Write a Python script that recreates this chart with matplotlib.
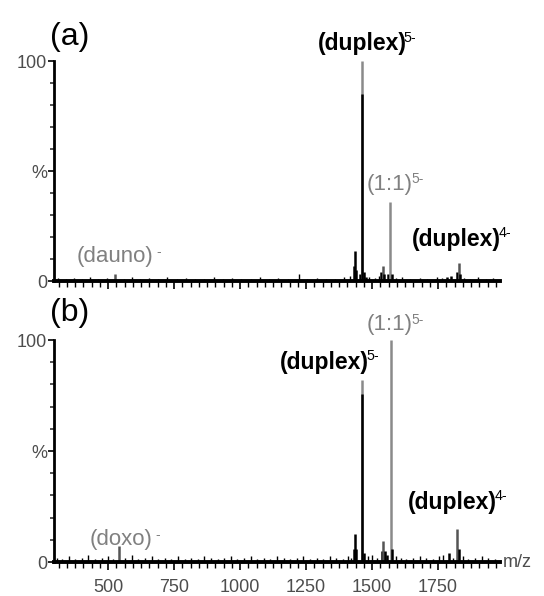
import matplotlib
matplotlib.use("Agg")
import matplotlib.pyplot as plt
from matplotlib.ticker import FixedLocator, MultipleLocator

plt.rcParams['font.family'] = ['Liberation Sans', 'DejaVu Sans']

# panel (a): daunorubicin, main peaks (m/z, %, colour)
peaks_a_mz = [526, 1430, 1436, 1441, 1455, 1462, 1463, 1470, 1476, 1535, 1540, 1546, 1562, 1568, 1575, 1785, 1800, 1822, 1828, 1835]
peaks_a_int = [3, 7, 13.5, 5, 3, 100, 85, 4, 2, 4, 7, 3, 3, 36, 3, 2, 2.5, 4, 8, 3]
peaks_a_col = ['#555555', 'k', 'k', 'k', 'k', '#8a8a8a', 'k', 'k', 'k', 'k', '#555555', 'k', 'k', '#8a8a8a', 'k', 'k', 'k', 'k', '#555555', 'k']

# panel (b): doxorubicin
peaks_b_mz = [542, 1430, 1436, 1441, 1462, 1463, 1470, 1536, 1542, 1548, 1555, 1571, 1576, 1790, 1823, 1828]
peaks_b_int = [7, 6, 12.5, 6, 82, 75.5, 4, 5, 9.5, 5, 3, 100, 6, 4, 15, 6]
peaks_b_col = ['#555555', 'k', 'k', 'k', '#8a8a8a', 'k', 'k', 'k', '#555555', 'k', 'k', '#8a8a8a', 'k', 'k', '#555555', 'k']

# baseline noise
noise_a_mz = [310, 340, 372, 400, 430, 460, 495, 560, 590, 622, 655, 690, 722, 760, 795, 830, 865, 900, 935,
              970, 1005, 1040, 1075, 1110, 1145, 1180, 1222, 1255, 1290, 1325, 1360, 1395, 1415, 1490, 1510,
              1525, 1590, 1615, 1645, 1680, 1710, 1745, 1765, 1850, 1870, 1900, 1930, 1960]
noise_a_int = [1.5, 1, 1.5, 1, 2, 1, 1.5, 1, 2, 1, 1.5, 1, 2, 1, 1.5, 1, 1, 2, 1,
               1.5, 1, 1, 2, 1, 1.5, 1, 3, 1, 1.5, 1, 1, 2, 2.5, 2, 1.5,
               2.5, 1.5, 2, 1, 1.5, 1, 2, 1.5, 1.5, 1, 2, 1, 1.5]
noise_b_mz = [305, 325, 350, 375, 400, 425, 450, 475, 500, 520, 565, 590, 612, 640, 665, 690, 715, 740, 765,
              790, 815, 840, 865, 890, 915, 940, 965, 990, 1015, 1040, 1065, 1090, 1115, 1140, 1165, 1190,
              1215, 1240, 1265, 1290, 1315, 1340, 1365, 1390, 1410, 1420, 1485, 1500, 1520, 1590, 1610, 1630,
              1655, 1680, 1705, 1730, 1755, 1770, 1805, 1845, 1865, 1890, 1915, 1940, 1965]
noise_b_int = [2, 1.5, 2.5, 1.5, 2, 3, 1.5, 2, 2.5, 1.5, 2, 3, 1.5, 2, 2.5, 1.5, 2, 1.5, 2.5,
               1.5, 2, 1.5, 2.5, 2, 1.5, 2, 2.5, 1.5, 2, 2.5, 1.5, 2, 1.5, 2.5, 2, 1.5,
               2, 2.5, 1.5, 2, 1.5, 2.5, 2, 1.5, 2.5, 2, 2.5, 3, 2, 2.5, 2, 1.5,
               2, 2.5, 2, 1.5, 2.5, 3, 2, 2.5, 1.5, 2, 2.5, 2, 1.5]

x_ticks = [500, 750, 1000, 1250, 1500, 1750]
y_ticks = [0, 50, 100]
y_ticklabels = ['0', '%', '100']
tick_grey = '#4d4d4d'
lab_grey = '#808080'


def sup_label(ax, x, y, main, sup, color, weight, size, gap=0.97):
    t = ax.text(x, y, main, color=color, fontweight=weight, fontsize=size,
                ha='center', va='center', clip_on=False)
    ax.annotate(sup, xy=(gap, 1.06), xycoords=t, ha='left', va='top',
                fontsize=size * 0.62, color=color, annotation_clip=False)


def setup(ax, show_labels):
    ax.set_xlim(295, 1985)
    ax.set_ylim(0, 100)
    for s in ['top', 'right']:
        ax.spines[s].set_visible(False)
    ax.spines['left'].set_linewidth(2)
    ax.spines['bottom'].set_linewidth(2.8)
    ax.xaxis.set_major_locator(FixedLocator(x_ticks))
    ax.xaxis.set_minor_locator(MultipleLocator(31.25))
    ax.yaxis.set_major_locator(FixedLocator(y_ticks))
    ax.yaxis.set_minor_locator(MultipleLocator(10))
    ax.set_yticklabels(y_ticklabels)
    ax.tick_params(axis='x', which='major', length=6, width=1.2, direction='out', colors='k',
                   labelcolor=tick_grey, labelsize=13, pad=6)
    ax.tick_params(axis='x', which='minor', length=4, width=1, direction='out', colors='k')
    ax.tick_params(axis='y', which='major', length=4, width=1.2, colors='k',
                   labelcolor=tick_grey, labelsize=13, pad=1)
    ax.tick_params(axis='y', which='minor', length=3, width=1.2, colors='#333333')
    if not show_labels:
        ax.tick_params(axis='x', labelbottom=False)


fig = plt.figure(figsize=(5.44, 5.96), dpi=100)
ax_a = fig.add_axes([0.0993, 0.5285, 0.8199, 0.3691])
ax_b = fig.add_axes([0.0993, 0.0570, 0.8199, 0.3725])

ax_a.vlines(noise_a_mz, 0, noise_a_int, color='k', lw=1)
ax_a.vlines(peaks_a_mz, 0, peaks_a_int, colors=peaks_a_col, lw=1.8, clip_on=False)
ax_b.vlines(noise_b_mz, 0, noise_b_int, color='k', lw=1)
ax_b.vlines(peaks_b_mz, 0, peaks_b_int, colors=peaks_b_col, lw=1.8, clip_on=False)

setup(ax_a, False)
setup(ax_b, True)

# panel (a) annotations
ax_a.text(280, 111, '(a)', fontsize=23, ha='left', va='center', clip_on=False)
sup_label(ax_a, 1462, 108, '(duplex)', '5-', 'k', 'bold', 16.5)
sup_label(ax_a, 1568, 44, '(1:1)', '5-', lab_grey, 'normal', 16)
sup_label(ax_a, 1820, 19, '(duplex)', '4-', 'k', 'bold', 16.5)
sup_label(ax_a, 526, 11, '(dauno)', '-', lab_grey, 'normal', 16, gap=1.04)

# panel (b) annotations
ax_b.text(280, 112, '(b)', fontsize=23, ha='left', va='center', clip_on=False)
sup_label(ax_b, 1320, 90, '(duplex)', '5-', 'k', 'bold', 16.5)
sup_label(ax_b, 1568, 107, '(1:1)', '5-', lab_grey, 'normal', 16)
sup_label(ax_b, 1805, 27, '(duplex)', '4-', 'k', 'bold', 16.5)
sup_label(ax_b, 549, 10, '(doxo)', '-', lab_grey, 'normal', 16, gap=1.04)
ax_b.text(1995, 0, 'm/z', fontsize=13, color=tick_grey, ha='left', va='center', clip_on=False)

fig.savefig('out.png', dpi=100)
